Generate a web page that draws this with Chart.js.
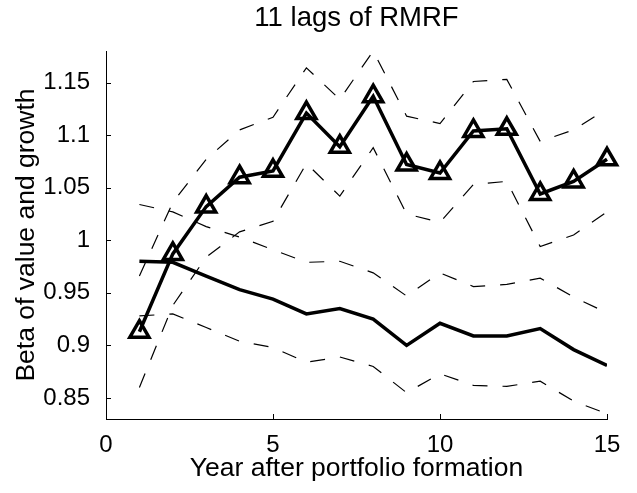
<!DOCTYPE html>
<html>
<head>
<meta charset="utf-8">
<script src="https://cdn.jsdelivr.net/npm/chart.js@4.4.1/dist/chart.umd.min.js"></script>
<style>
  html, body { margin: 0; padding: 0; background: #fff; }
  canvas { display: block; }
</style>
</head>
<body>
<canvas id="grafico" width="637" height="493"></canvas>
<script>
// dados
const anos = [1, 2, 3, 4, 5, 6, 7, 8, 9, 10, 11, 12, 13, 14, 15];

const betaTriang = [0.913, 0.987, 1.032, 1.060, 1.066, 1.121, 1.089, 1.137, 1.072, 1.064, 1.104, 1.106, 1.044, 1.056, 1.077];
const betaTriangSup = [0.966, 1.036, 1.077, 1.105, 1.117, 1.164, 1.134, 1.180, 1.118, 1.111, 1.151, 1.153, 1.094, 1.105, 1.125];
const betaTriangInf = [0.860, 0.938, 0.984, 1.008, 1.018, 1.073, 1.042, 1.088, 1.025, 1.017, 1.053, 1.056, 0.994, 1.005, 1.027];

const betaLinha = [0.980, 0.979, 0.966, 0.953, 0.944, 0.930, 0.935, 0.925, 0.900, 0.921, 0.909, 0.909, 0.916, 0.896, 0.881];
const betaLinhaSup = [1.034, 1.027, 1.013, 1.003, 0.991, 0.979, 0.980, 0.969, 0.947, 0.969, 0.956, 0.958, 0.964, 0.946, 0.931];
const betaLinhaInf = [0.928, 0.930, 0.917, 0.904, 0.898, 0.884, 0.889, 0.880, 0.855, 0.873, 0.862, 0.861, 0.866, 0.847, 0.835];

const ticksX = [0, 5, 10, 15];
const ticksY = [0.85, 0.9, 0.95, 1, 1.05, 1.1, 1.15];

const titulo = '11 lags of RMRF';
const tituloX = 'Year after portfolio formation';
const tituloY = 'Beta of value and growth';

const familia = "'Liberation Sans', Arial, sans-serif";
const fonteTicks = { family: familia, size: 24 };
const fonteRotulo = { family: familia, size: 26.5 };
const fonteTitulo = { family: familia, size: 27.5 };

function pontos(valores) {
    return anos.map((a, i) => ({ x: a, y: valores[i] }));
}

function tracejada(valores) {
    return {
        data: pontos(valores),
        borderColor: '#000',
        borderWidth: 1.2,
        borderDash: [15, 15],
        pointRadius: 0,
        fill: false,
        tension: 0
    };
}

// marcas de escala para dentro, estilo matlab
const marcasDentro = {
    id: 'marcasDentro',
    afterDraw(chart) {
        const { ctx, chartArea, scales } = chart;
        ctx.save();
        ctx.strokeStyle = '#000';
        ctx.lineWidth = 1;
        ctx.beginPath();
        scales.x.ticks.forEach(t => {
            const px = Math.round(scales.x.getPixelForValue(t.value)) + 0.5;
            ctx.moveTo(px, chartArea.bottom);
            ctx.lineTo(px, chartArea.bottom - 5);
        });
        scales.y.ticks.forEach(t => {
            const py = Math.round(scales.y.getPixelForValue(t.value)) + 0.5;
            ctx.moveTo(chartArea.left, py);
            ctx.lineTo(chartArea.left + 5, py);
        });
        ctx.stroke();
        ctx.restore();
    }
};

const ctx = document.getElementById('grafico').getContext('2d');

const meuGrafico = new Chart(ctx, {
    type: 'line',
    data: {
        datasets: [
            {
                data: pontos(betaTriang),
                borderColor: '#000',
                borderWidth: 3.5,
                pointStyle: 'triangle',
                pointRadius: 11,
                pointBorderWidth: 3.5,
                pointBorderColor: '#000',
                pointBackgroundColor: 'rgba(0,0,0,0)',
                fill: false,
                tension: 0,
                clip: false
            },
            {
                data: pontos(betaLinha),
                borderColor: '#000',
                borderWidth: 3.5,
                pointRadius: 0,
                fill: false,
                tension: 0
            },
            tracejada(betaTriangSup),
            tracejada(betaTriangInf),
            tracejada(betaLinhaSup),
            tracejada(betaLinhaInf)
        ]
    },
    options: {
        responsive: false,
        animation: false,
        devicePixelRatio: 1,
        layout: { padding: { left: 0, right: 30, top: 0, bottom: 0 } },
        plugins: {
            legend: { display: false },
            tooltip: { enabled: false }
        },
        scales: {
            x: {
                type: 'linear',
                min: 0,
                max: 15,
                afterBuildTicks: eixo => { eixo.ticks = ticksX.map(v => ({ value: v })); },
                afterFit: eixo => { eixo.height = 74; },
                grid: { display: false },
                border: { display: true, color: '#000', width: 1 },
                ticks: { color: '#000', font: fonteTicks, padding: 4, maxRotation: 0, callback: v => String(v) },
                title: { display: true, text: tituloX, color: '#000', font: fonteRotulo, padding: { top: 0, bottom: 8 } }
            },
            // eixo de cima só para o título, centrado na área do gráfico
            topo: {
                type: 'linear',
                position: 'top',
                min: 0,
                max: 15,
                afterFit: eixo => { eixo.height = 51; },
                grid: { display: false },
                border: { display: false },
                ticks: { display: false },
                title: { display: true, text: titulo, color: '#000', font: fonteTitulo, padding: { top: 2, bottom: 0 } }
            },
            y: {
                type: 'linear',
                min: 0.83,
                max: 1.18,
                afterBuildTicks: eixo => { eixo.ticks = ticksY.map(v => ({ value: v })); },
                afterFit: eixo => { eixo.width = 106; },
                grid: { display: false },
                border: { display: true, color: '#000', width: 1 },
                ticks: { color: '#000', font: fonteTicks, padding: 8, callback: v => String(v) },
                title: { display: true, text: tituloY, color: '#000', font: fonteRotulo, padding: { top: 11, bottom: 0 } }
            }
        }
    },
    plugins: [marcasDentro]
});
</script>
</body>
</html>
